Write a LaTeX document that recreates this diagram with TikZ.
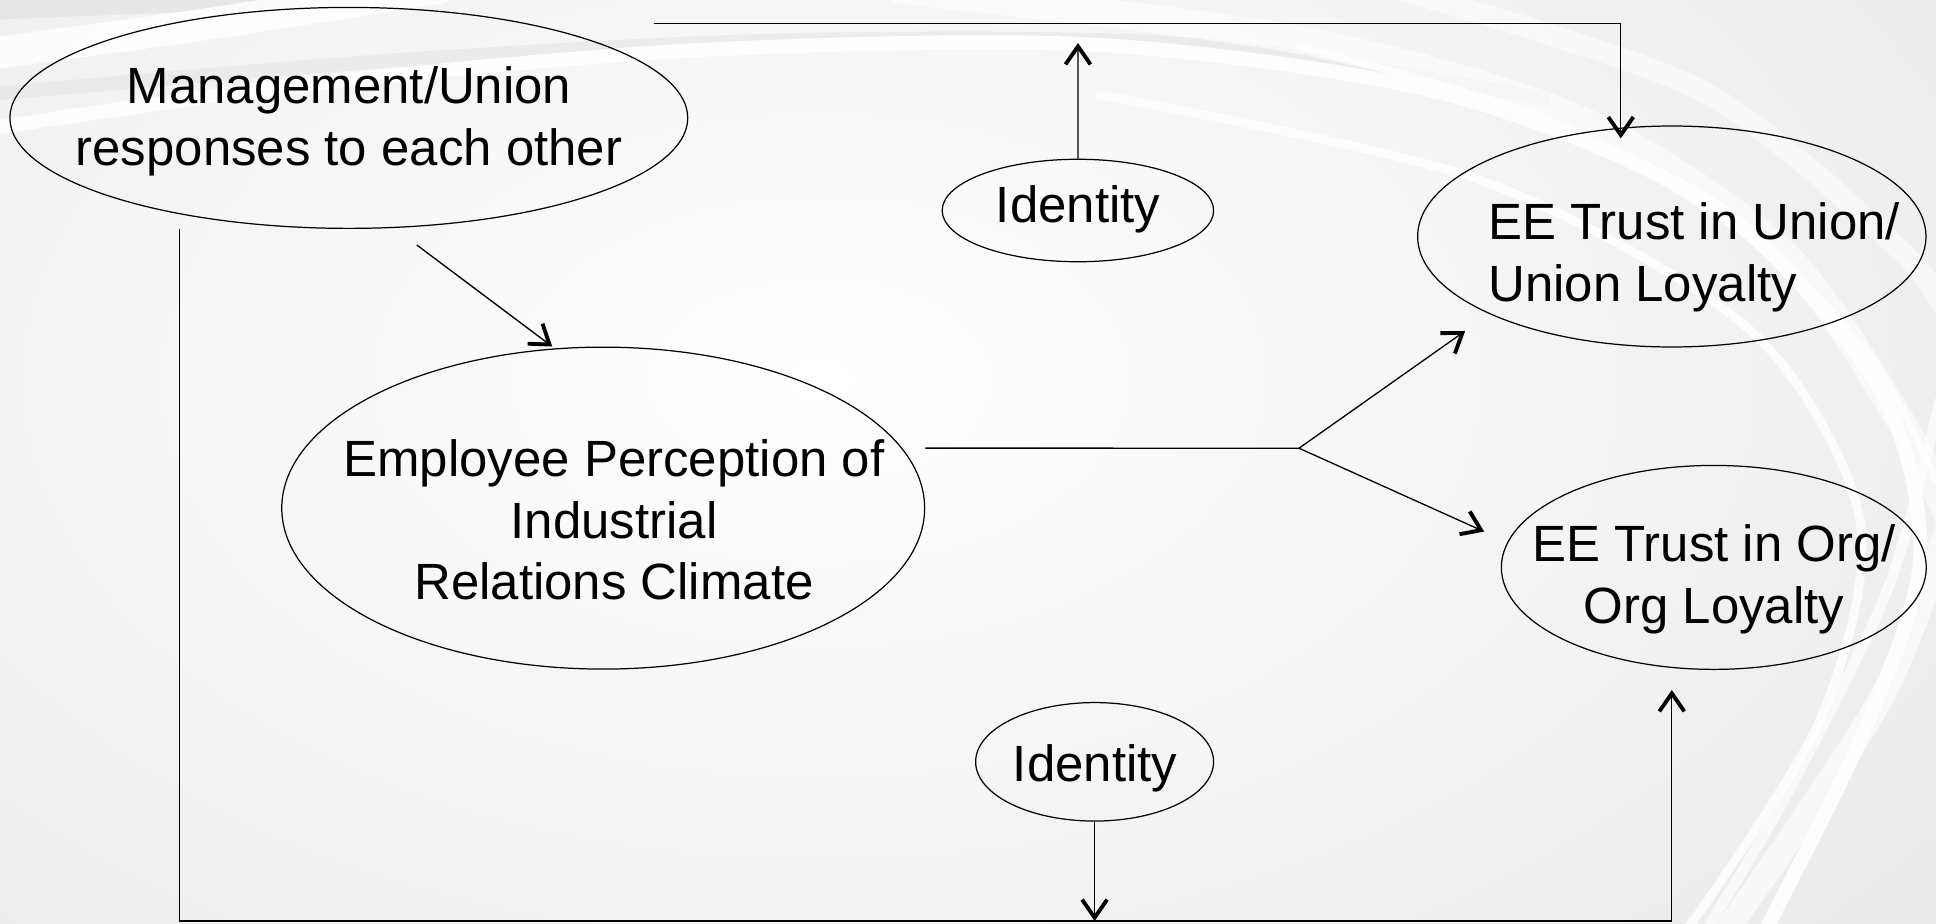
\documentclass[tikz,border=0pt]{standalone}
\usepackage{fontspec}
\setmainfont{Liberation Sans}
\usetikzlibrary{positioning,shapes.geometric,arrows.meta,calc}

\begin{document}
\begin{tikzpicture}[
x=0.02cm, y=-0.02cm,
ovalnode/.style={ellipse, draw=black, line width=0.7pt, inner sep=0pt},
ovaltext/.style={align=center, font=\fontsize{29}{35.1}\selectfont, inner sep=0pt},
swoosh/.style={white, line cap=round},
]
\useasboundingbox (0,0) rectangle (1936,923);

%Lines
\coordinate (topleft) at (654,23.5);
\coordinate (idtop-end) at (1078,43);
\coordinate (fork) at (1299,448.2);
\coordinate (base) at (1094.6,921);

%Background
\fill[gray!17] (0,0) rectangle (1936,923);
\begin{scope}
\clip (0,0) rectangle (1936,923);
\shade[inner color=white, outer color=gray!17] (820,380) ellipse [x radius=30cm, y radius=18cm];
\draw[gray!22, line width=14pt, opacity=.7] plot[smooth] coordinates {(-20,8) (300,-5)};
\draw[swoosh, line width=18pt, opacity=.85] plot[smooth] coordinates {(-20,55) (200,25) (440,-12)};
\draw[gray!20, line width=8pt, opacity=.6] plot[smooth] coordinates {(-20,95) (400,60) (800,40) (1200,45) (1550,100)};
\draw[swoosh, line width=8pt, opacity=.9] plot[smooth] coordinates {(-20,130) (300,85) (700,50) (1100,45) (1450,95) (1720,210) (1880,390) (1920,560) (1860,740) (1760,940)};
\draw[swoosh, line width=16pt, opacity=.6] plot[smooth] coordinates {(900,-10) (1300,40) (1580,120) (1780,250) (1900,420) (1950,520)};
\draw[swoosh, line width=12pt, opacity=.55] plot[smooth] coordinates {(1400,-10) (1700,90) (1900,250) (1950,320)};
\draw[swoosh, line width=14pt, opacity=.65] plot[smooth] coordinates {(1950,520) (1880,700) (1720,940)};
\draw[swoosh, line width=5pt, opacity=.85] plot[smooth] coordinates {(1100,95) (1480,180) (1750,330) (1860,520) (1820,720) (1680,940)};
\draw[swoosh, line width=4pt, opacity=.8] plot[smooth] coordinates {(1300,47) (1543,118) (1746,235) (1868,353) (1936,480)};
\draw[swoosh, line width=6pt, opacity=.7] plot[smooth] coordinates {(1940,400) (1888,588) (1787,794) (1706,930)};
\end{scope}

%Nodes
\node[ovalnode, minimum width=13.56cm, minimum height=4.42cm] (mgmtunion)  at (348.8,117.9) {};
\node[ovalnode, minimum width=12.86cm, minimum height=6.44cm] (perception) at (603.2,508.1) {};
\node[ovalnode, minimum width=5.43cm,  minimum height=2.05cm] (idtop)      at (1077.9,210.5) {};
\node[ovalnode, minimum width=10.17cm, minimum height=4.42cm] (uniontrust) at (1671.8,236.5) {};
\node[ovalnode, minimum width=8.50cm,  minimum height=4.08cm] (orgtrust)   at (1713.8,567.4) {};
\node[ovalnode, minimum width=4.76cm,  minimum height=2.37cm] (idbottom)   at (1094.6,761.8) {};

%Connectors
\draw[line width=0.75pt, -{Straight Barb[length=3.6mm,width=5mm,line width=2.2pt]}] (topleft) -| ($(uniontrust.north)+(-51,13)$);
\draw[line width=0.75pt, -{Straight Barb[length=3.6mm,width=5mm,line width=2.2pt]}] (idtop) -- (idtop-end);
\draw[line width=0.75pt, -{Straight Barb[length=3.6mm,width=5mm,line width=2.2pt]}] ($(mgmtunion.south)+(68,16)$) -- ($(perception.north)+(-51,0)$);
\draw[line width=0.75pt] ($(perception.east)+(0,-60)$) -- (fork);
\draw[line width=0.75pt, -{Straight Barb[length=3.6mm,width=5mm,line width=2.2pt]}, shorten >=0.59cm] (fork) -- (uniontrust.203);
\draw[line width=0.75pt, -{Straight Barb[length=3.6mm,width=5mm,line width=2.2pt]}, shorten >=0.51cm] (fork) -- (orgtrust.173);
\draw[line width=0.75pt, -{Straight Barb[length=3.6mm,width=5mm,line width=2.2pt]}] ($(mgmtunion.south)+(-169,0)$) |- (base) -| ($(orgtrust.south)+(-42,20)$);
\draw[line width=0.75pt, -{Straight Barb[length=3.6mm,width=5mm,line width=2.2pt]}] (idbottom) -- (base);

%Texts
\node[ovaltext] (mgmtunion-t)  at (349,121)  {Management/Union\\responses to each other};
\node[ovaltext] (perception-t) at (614,520)  {Employee Perception of\\Industrial\\Relations Climate};
\node[ovaltext] (idtop-t)      at (1078,209) {Identity};
\node[ovaltext, align=left, anchor=west] (uniontrust-t) at (1488,257) {EE Trust in Union/\\Union Loyalty};
\node[ovaltext] (orgtrust-t)   at (1714,579) {EE Trust in Org/\\Org Loyalty};
\node[ovaltext] (idbottom-t)   at (1095,768) {Identity};

\end{tikzpicture}
\end{document}
